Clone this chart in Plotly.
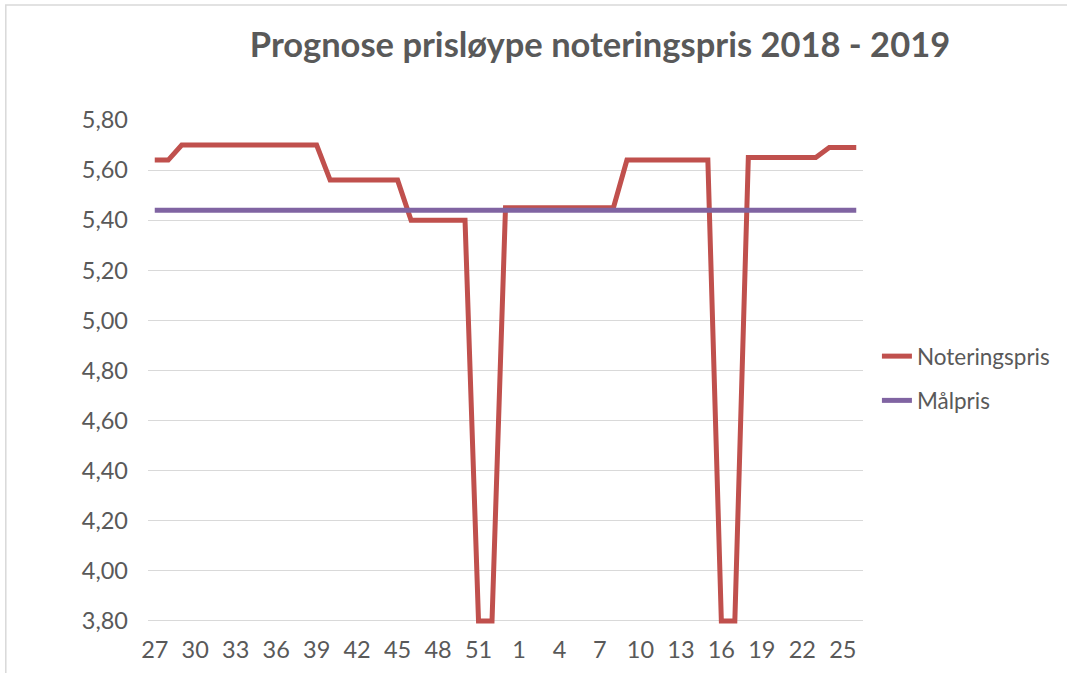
import plotly.graph_objects as go

# Week categories (x axis)
weeks = [str(w) for w in range(27, 54)] + [str(w) for w in range(1, 27)]

# Series values
noteringspris = [
    5.64, 5.64, 5.70, 5.70, 5.70, 5.70, 5.70, 5.70, 5.70, 5.70,
    5.70, 5.70, 5.70, 5.56, 5.56, 5.56, 5.56, 5.56, 5.56, 5.40,
    5.40, 5.40, 5.40, 5.40, 3.80, 3.80, 5.45, 5.45, 5.45, 5.45,
    5.45, 5.45, 5.45, 5.45, 5.45, 5.64, 5.64, 5.64, 5.64, 5.64,
    5.64, 5.64, 3.80, 3.80, 5.65, 5.65, 5.65, 5.65, 5.65, 5.65,
    5.69, 5.69, 5.69,
]
malpris = [5.44] * len(weeks)

y_ticks = [3.8, 4.0, 4.2, 4.4, 4.6, 4.8, 5.0, 5.2, 5.4, 5.6, 5.8]

TEXT = "#595959"
GRID = "#D9D9D9"
FONT = "Lato"

W, H = 1067, 673
ML, MR, MT, MB = 148, 200, 120, 49
PW = W - ML - MR
PH = H - MT - MB

fig = go.Figure()
fig.add_trace(go.Scatter(
    x=weeks, y=noteringspris, mode="lines", name="Noteringspris",
    line=dict(color="#C0504D", width=5), legendgroup="a",
))
fig.add_trace(go.Scatter(
    x=weeks, y=malpris, mode="lines", name="Målpris",
    line=dict(color="#8064A2", width=5), legendgroup="b",
))

fig.update_layout(
    width=W, height=H,
    margin=dict(l=ML, r=MR, t=MT, b=MB),
    paper_bgcolor="white", plot_bgcolor="white",
    separators=",.",
    font=dict(family=FONT, color=TEXT),
    title=dict(
        text="<b>Prognose prisløype noteringspris 2018 - 2019</b>",
        x=600 / W, y=1 - 45 / H, xanchor="center", yanchor="middle",
        font=dict(family=FONT, size=34.5, color=TEXT),
    ),
    showlegend=True,
    legend=dict(
        x=(881 - ML) / PW, y=1 - (335 - MT) / PH,
        xanchor="left", yanchor="top",
        font=dict(family=FONT, size=22.5, color=TEXT),
        traceorder="grouped", tracegroupgap=12,
        bgcolor="rgba(0,0,0,0)",
    ),
    xaxis=dict(
        type="category", range=[-0.5, len(weeks) - 0.5],
        tickmode="linear", tick0=0, dtick=3,
        showgrid=False, zeroline=False, showline=False,
        ticks="", ticklabelstandoff=9, automargin=False,
        tickfont=dict(family=FONT, size=23.5, color=TEXT),
        fixedrange=True,
    ),
    yaxis=dict(
        range=[3.788, 5.8], tickvals=y_ticks, tickformat=".2f",
        showgrid=True, gridcolor=GRID, gridwidth=1.3,
        zeroline=False, showline=False, ticks="",
        ticklabelstandoff=19, automargin=False,
        tickfont=dict(family=FONT, size=23.5, color=TEXT),
        fixedrange=True,
    ),
    shapes=[dict(
        type="rect", xref="paper", yref="paper",
        x0=(5 - ML) / PW, x1=(1090 - ML) / PW,
        y0=1 + (MT - 5) / PH, y1=-(700 - MT - PH) / PH,
        line=dict(color=GRID, width=1.5), fillcolor="rgba(0,0,0,0)",
        layer="below",
    )],
)

fig.write_html(
    "out.html",
    config={"displayModeBar": False},
    post_script="document.body.style.margin='0';document.body.style.overflow='hidden';",
)
